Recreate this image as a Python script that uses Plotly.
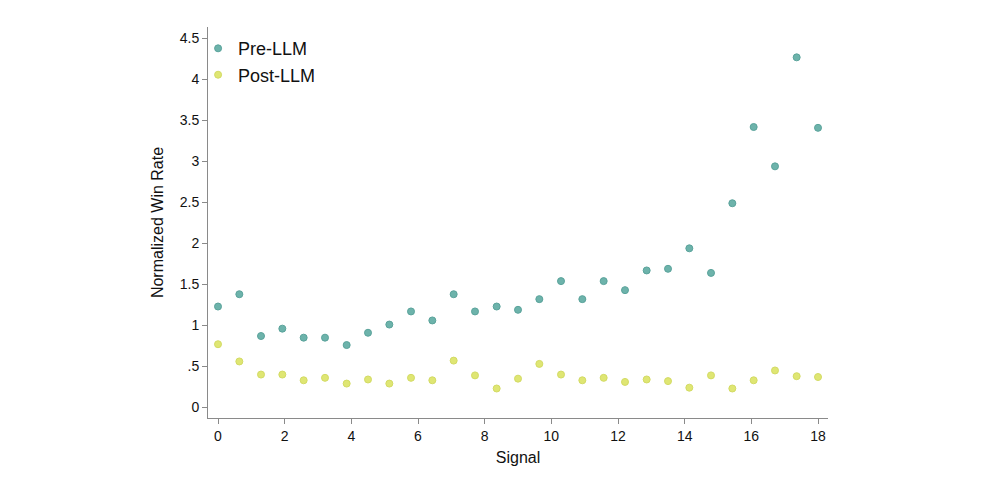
import plotly.graph_objects as go

signal = [0.0, 0.64, 1.29, 1.93, 2.57, 3.21, 3.86, 4.5, 5.14, 5.79, 6.43, 7.07, 7.71, 8.36,
          9.0, 9.64, 10.29, 10.93, 11.57, 12.21, 12.86, 13.5, 14.14, 14.79, 15.43, 16.07,
          16.71, 17.36, 18.0]
pre_llm = [1.23, 1.38, 0.87, 0.96, 0.85, 0.85, 0.76, 0.91, 1.01, 1.17, 1.06, 1.38, 1.17, 1.23,
           1.19, 1.32, 1.54, 1.32, 1.54, 1.43, 1.67, 1.69, 1.94, 1.64, 2.49, 3.42, 2.94, 4.27, 3.41]
post_llm = [0.77, 0.56, 0.40, 0.40, 0.33, 0.36, 0.29, 0.34, 0.29, 0.36, 0.33, 0.57, 0.39, 0.23,
            0.35, 0.53, 0.40, 0.33, 0.36, 0.31, 0.34, 0.32, 0.24, 0.39, 0.23, 0.33, 0.45, 0.38, 0.37]
y_tickvals = [0, 0.5, 1, 1.5, 2, 2.5, 3, 3.5, 4, 4.5]
y_ticktext = ["0", ".5", "1", "1.5", "2", "2.5", "3", "3.5", "4", "4.5"]
x_tickvals = [0, 2, 4, 6, 8, 10, 12, 14, 16, 18]

fig = go.Figure()
fig.add_trace(go.Scatter(x=signal, y=pre_llm, mode="markers", name="Pre-LLM",
                         marker=dict(size=7, color="#6db3ab", line=dict(color="#5aa39b", width=1))))
fig.add_trace(go.Scatter(x=signal, y=post_llm, mode="markers", name="Post-LLM",
                         marker=dict(size=7, color="#dfe673", line=dict(color="#d3db64", width=1))))

axis_common = dict(showgrid=False, zeroline=False, showline=True, linecolor="#8a8a8a", linewidth=1,
                   ticks="outside", ticklen=5, tickcolor="#8a8a8a",
                   tickfont=dict(family="Liberation Sans, Arial, sans-serif", size=14, color="#111"))
fig.update_layout(
    width=985, height=486,
    margin=dict(l=200, r=165, t=19, b=76),
    paper_bgcolor="white", plot_bgcolor="white",
    font=dict(family="Liberation Sans, Arial, sans-serif", color="#111"),
    xaxis=dict(range=[-0.3, 18.3], tickvals=x_tickvals,
               title=dict(text="Signal", font=dict(size=16), standoff=9), **axis_common),
    yaxis=dict(range=[-0.13, 4.64], tickvals=y_tickvals, ticktext=y_ticktext,
               title=dict(text="Normalized Win Rate", font=dict(size=16), standoff=12), **axis_common),
    legend=dict(x=-0.016, y=0.992, xanchor="left", yanchor="top", bgcolor="rgba(0,0,0,0)",
                font=dict(size=18), tracegroupgap=2),
    showlegend=True,
)
fig.write_html("out.html")
